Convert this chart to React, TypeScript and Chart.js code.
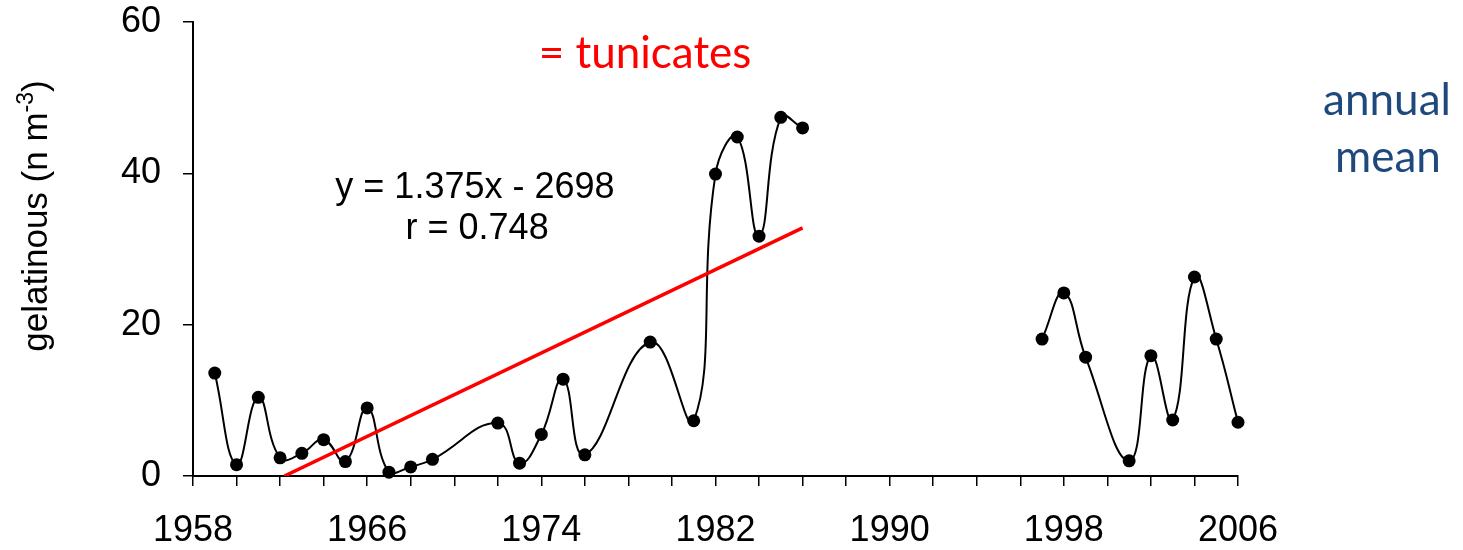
import React, { useEffect, useRef } from "react";
import { Chart, registerables } from "chart.js";

Chart.register(...registerables);

const earlyYears = [1959, 1960, 1961, 1962, 1963, 1964, 1965, 1966, 1967, 1968, 1969, 1972, 1973, 1974, 1975, 1976, 1979, 1981, 1982, 1983, 1984, 1985, 1986];
const earlyValues = [13.6, 1.5, 10.4, 2.4, 3.0, 4.8, 1.9, 9.0, 0.5, 1.2, 2.2, 7.0, 1.7, 5.5, 12.8, 2.8, 17.7, 7.3, 39.9, 44.8, 31.7, 47.4, 46.0];
const lateYears = [1997, 1998, 1999, 2001, 2002, 2003, 2004, 2005, 2006];
const lateValues = [18.1, 24.2, 15.7, 2.0, 15.9, 7.4, 26.3, 18.1, 7.1];
const trendYears = [1962.2, 1986];
const trendValues = [0, 32.8];
const xTickLabels = ["1958", "1966", "1974", "1982", "1990", "1998", "2006"];

const ARIAL = "'Liberation Sans', Arial, sans-serif";
const CALIBRI = "Lato, 'Open Sans', sans-serif";

const textPlugin = {
  id: "annotText",
  afterDraw(chart: any) {
    const ctx = chart.ctx;
    const xs = chart.scales.x;
    const ys = chart.scales.y;
    ctx.save();
    // equation
    ctx.fillStyle = "#000";
    ctx.font = `36px ${ARIAL}`;
    ctx.textAlign = "center";
    ctx.textBaseline = "middle";
    ctx.fillText("y = 1.375x - 2698", xs.getPixelForValue(1970.95), ys.getPixelForValue(38.1));
    ctx.fillText("r = 0.748", xs.getPixelForValue(1971.05), ys.getPixelForValue(32.6));
    // tunicates label
    ctx.fillStyle = "#FF0000";
    ctx.font = `44px ${CALIBRI}`;
    ctx.textBaseline = "alphabetic";
    ctx.fillText("= tunicates", 645, 68);
    // annual mean
    ctx.fillStyle = "#1F497D";
    ctx.fillText("annual", 1387, 115);
    ctx.fillText("mean", 1388, 172);
    // y axis title with superscript
    ctx.fillStyle = "#000";
    ctx.translate(37, 216);
    ctx.rotate(-Math.PI / 2);
    const mainFont = `35px ${ARIAL}`;
    const supFont = `23px ${ARIAL}`;
    ctx.font = mainFont;
    const p1 = "gelatinous (n m";
    const p3 = ")";
    const w1 = ctx.measureText(p1).width;
    const w3 = ctx.measureText(p3).width;
    ctx.font = supFont;
    const w2 = ctx.measureText("-3").width;
    const total = w1 + w2 + w3;
    let x = -total / 2;
    ctx.textAlign = "left";
    ctx.textBaseline = "middle";
    ctx.font = mainFont;
    ctx.fillText(p1, x, 0);
    x += w1;
    ctx.font = supFont;
    ctx.fillText("-3", x, -10);
    x += w2;
    ctx.font = mainFont;
    ctx.fillText(p3, x, 0);
    ctx.restore();
  },
};

export default function App() {
  const ref = useRef<HTMLCanvasElement>(null);
  useEffect(() => {
    if (!ref.current) return;
    const toPts = (xsArr: number[], ysArr: number[]) => xsArr.map((x, i) => ({ x, y: ysArr[i] }));
    const lineStyle = {
      borderColor: "#000",
      borderWidth: 2,
      tension: 0.45,
      pointRadius: 6.5,
      pointBackgroundColor: "#000",
      pointBorderWidth: 0,
      clip: false as any,
      order: 1,
    };
    const chart = new Chart(ref.current, {
      type: "line",
      data: {
        datasets: [
          { label: "trend", data: toPts(trendYears, trendValues), borderColor: "#FF0000", borderWidth: 3.5, pointRadius: 0, tension: 0, order: 0 },
          { label: "early", data: toPts(earlyYears, earlyValues), ...lineStyle },
          { label: "late", data: toPts(lateYears, lateValues), ...lineStyle },
        ],
      },
      options: {
        responsive: false,
        animation: false,
        layout: { padding: { left: 0, right: 225, top: 0, bottom: 0 } },
        plugins: { legend: { display: false }, tooltip: { enabled: false } },
        scales: {
          x: {
            type: "linear",
            min: 1958,
            max: 2006,
            afterFit: (s: any) => { s.height = 74; },
            ticks: {
              stepSize: 2,
              autoSkip: false,
              maxRotation: 0,
              color: "#000",
              padding: 23,
              font: { size: 36, family: ARIAL },
              callback: (v: any) => (xTickLabels.includes(String(v)) ? String(v) : ""),
            },
            grid: { drawOnChartArea: false, drawTicks: true, tickLength: 10, color: "#000", lineWidth: 1.5 },
            border: { color: "#000", width: 2 },
          },
          y: {
            min: 0,
            max: 60,
            afterFit: (s: any) => { s.width = 193; s.paddingTop = 22; s.paddingBottom = 0; },
            ticks: {
              stepSize: 20,
              color: "#000",
              padding: 22,
              font: { size: 36, family: ARIAL },
            },
            grid: { drawOnChartArea: false, drawTicks: true, tickLength: 10, color: "#000", lineWidth: 1.5 },
            border: { color: "#000", width: 2 },
          },
        },
      },
      plugins: [textPlugin],
    });
    return () => chart.destroy();
  }, []);
  return (
    <div style={{ position: "absolute", left: 0, top: 0, width: 1463, height: 550, background: "#fff" }}>
      <canvas ref={ref} width={1463} height={550} />
    </div>
  );
}
